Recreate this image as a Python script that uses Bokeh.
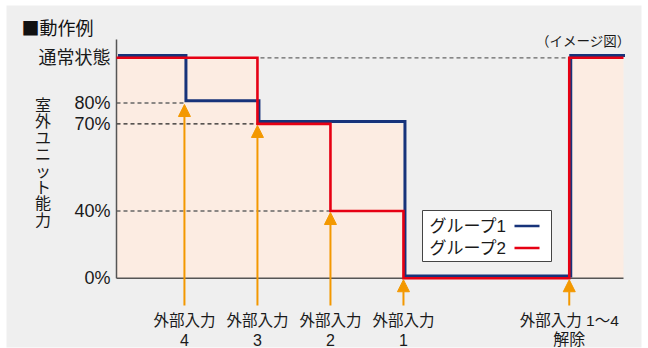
from bokeh.plotting import figure
from bokeh.models import Range1d, Arrow, NormalHead
from bokeh.core.properties import value
from bokeh.embed import file_html
from bokeh.resources import INLINE

# ---------------- data ----------------
level_names = ["0%", "40%", "70%", "80%", "通常状態"]
level_pos = [0, 30.5, 70, 79.5, 100]          # schematic (not to scale) axis positions
POS = dict(zip(level_names, level_pos))

event_t = [13.4, 27.8, 42.2, 56.6, 89.3]      # 外部入力4,3,2,1, 解除
event_line1 = ["外部入力", "外部入力", "外部入力", "外部入力", "外部入力 1～4"]
event_line2 = ["4", "3", "2", "1", "解除"]
arrow_level = ["80%", "70%", "40%", "0%", "0%"]

g1_t = [0, 13.4, 27.8, 56.6, 89.3, 100]
g1_level = ["通常状態", "80%", "70%", "0%", "通常状態", "通常状態"]
g2_t = [0, 27.8, 42.2, 56.6, 89.3, 100]
g2_level = ["通常状態", "70%", "40%", "0%", "通常状態", "通常状態"]
series_names = ["グループ1", "グループ2"]

# ---------------- layout ----------------
W, H = 648, 348
PX0, PXU = 116.0, 5.07       # x of t=0, px per t unit
PY0, PYU = 277.7, 2.204      # y of level 0, px per level unit

def X(px):
    return (px - PX0) / PXU

def Y(py):
    return (PY0 - py) / PYU

BLUE = "#17337a"
RED = "#e60013"
ORANGE = "#f39800"
FILL = "#fcece2"
BG = "#efefef"
TXT = "#1a1a1a"
FONT = value("'Liberation Sans', 'Noto Sans CJK JP'")
JFONT = value("Noto Sans CJK JP")

p = figure(width=W, height=H, output_backend="svg", toolbar_location=None,
           x_range=Range1d(X(0), X(W)), y_range=Range1d(Y(H), Y(0)),
           x_axis_type=None, y_axis_type=None, min_border=0,
           background_fill_color="white", border_fill_color="white",
           outline_line_color=None)
p.grid.visible = False

# card background
p.quad(left=[X(6)], right=[X(641)], top=[Y(5)], bottom=[Y(347)],
       fill_color=BG, line_color=None)

dx, dy = 1.5 / PXU, 2.3 / PYU
p.extra_x_ranges["b"] = Range1d(p.x_range.start - dx, p.x_range.end - dx)
p.extra_y_ranges["b"] = Range1d(p.y_range.start - dy, p.y_range.end - dy)

def level_at(ts, ls, t):
    k = 0
    for i, tt in enumerate(ts):
        if tt <= t:
            k = i
    return POS[ls[k]]

# fill under the upper envelope
ts = sorted(set(g1_t + g2_t))
fx, fy = [ts[0]], [0]
for a, b in zip(ts[:-1], ts[1:]):
    h = max(level_at(g1_t, g1_level, a), level_at(g2_t, g2_level, a))
    fx += [a, b]
    fy += [h, h]
fx.append(ts[-1]); fy.append(0)
p.patch(fx, fy, fill_color=FILL, line_color=None)

# dashed guide lines
def first_reach(lv):
    c = []
    for t_, l_ in ((g1_t, g1_level), (g2_t, g2_level)):
        for tt, ll in zip(t_, l_):
            if ll == lv:
                c.append(tt)
                break
    return min(c) if c else None

for lv, col in (("80%", "#666666"), ("70%", "#222222"), ("40%", "#666666")):
    p.line([0, first_reach(lv)], [POS[lv], POS[lv]], line_color=col,
           line_width=1.3, line_dash="4 3")
top = level_names[-1]
leave = max(t for t, l in zip(g2_t, g2_level) if l != top and t < event_t[-1]
            and g2_level[g2_t.index(t) - 1] == top)
p.line([leave + 0.6, event_t[-1]], [POS[top], POS[top]], line_color="#666666",
       line_width=1.3, line_dash="4 3")

# axis lines
p.line([0, 0], [0, Y(39)], line_color="#555555", line_width=1.5)
p.line([0, 100], [0, 0], line_color="#555555", line_width=1.5)

# series
p.step(g1_t, [POS[l] for l in g1_level], mode="after", line_color=BLUE,
       line_width=3, line_join="miter", x_range_name="b", y_range_name="b")
p.step(g2_t, [POS[l] for l in g2_level], mode="after", line_color=RED,
       line_width=2.6, line_join="miter")

# arrows
for t, lv in zip(event_t, arrow_level):
    p.add_layout(Arrow(x_start=t, y_start=Y(305), x_end=t, y_end=POS[lv] - 0.7,
                       line_color=ORANGE, line_width=2,
                       end=NormalHead(size=12, fill_color=ORANGE, line_color=ORANGE,
                                      line_width=1)))

# event labels
p.text(event_t, [Y(320)] * len(event_t), text=event_line1, text_align="center",
       text_baseline="middle", text_font=FONT, text_font_size="15.5px", text_color=TXT)
p.text(event_t, [Y(339)] * len(event_t), text=event_line2, text_align="center",
       text_baseline="middle", text_font=FONT, text_font_size="16px", text_color=TXT)

# y tick labels
p.text([X(110)] * len(level_names), level_pos, text=level_names, text_align="right",
       text_baseline="middle", text_font=FONT, text_font_size="18px", text_color=TXT)

# y title (vertical)
p.text([X(42.5)], [Y(96.5)], text=["\n".join("室外ユニット能力")], text_align="center",
       text_baseline="top", text_font=FONT, text_font_size="16px",
       text_line_height=0.965, text_color=TXT)

# title and note
p.text([X(21)], [Y(26.5)], text=["■動作例"], text_align="left", text_baseline="middle",
       text_font=JFONT, text_font_size="18px", text_color="#111111")
p.text([X(630)], [Y(39)], text=["（イメージ図）"], text_align="right",
       text_baseline="middle", text_font=JFONT, text_font_size="13.5px", text_color=TXT)

# legend
p.quad(left=[X(422)], right=[X(551)], top=[Y(210)], bottom=[Y(261)],
       fill_color="white", line_color="#444444", line_width=1)
ly = [Y(225.5), Y(247.5)]
p.text([X(429)] * 2, ly, text=series_names, text_align="left", text_baseline="middle",
       text_font=FONT, text_font_size="17px", text_color=TXT)
p.segment(x0=[X(514)] * 2, y0=ly, x1=[X(539)] * 2, y1=ly, line_color=[BLUE, RED],
          line_width=2.6)

open("out.html", "w").write(file_html(p, INLINE))
